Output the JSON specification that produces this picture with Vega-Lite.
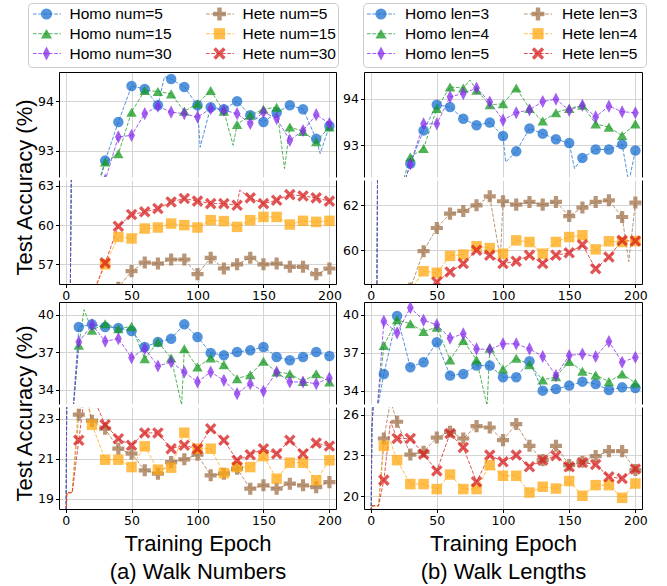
{
"$schema": "https://vega.github.io/schema/vega-lite/v6.json",
"background": "white",
"padding": {"left": 13, "top": 2, "right": 5, "bottom": 5},
"config": {
  "view": {"stroke": null},
  "axis": {"domainColor": "#000", "domainWidth": 1, "tickColor": "#000", "tickWidth": 1, "tickSize": 3.5, "labelFont": "DejaVu Sans", "labelFontSize": 12.5, "labelColor": "#000", "labelPadding": 2, "gridColor": "#d4d4d4", "gridWidth": 1, "titleFont": "Liberation Sans", "titleFontSize": 22, "titleFontWeight": "normal", "titleColor": "#000"}
},
"datasets": {
"A1": [
{"s":"h1","e":0,"v":30},{"s":"h1","e":3,"v":48},{"s":"h1","e":5,"v":72},{"s":"h1","e":10,"v":86},{"s":"h1","e":20,"v":91.9},{"s":"h1","e":30,"v":92.8},{"s":"h1","e":40,"v":93.58},{"s":"h1","e":50,"v":94.31},{"s":"h1","e":60,"v":94.25},{"s":"h1","e":70,"v":93.92},{"s":"h1","e":75,"v":94.5},{"s":"h1","e":80,"v":94.45},{"s":"h1","e":90,"v":94.29},{"s":"h1","e":100,"v":93.92},{"s":"h1","e":102,"v":93.07},{"s":"h1","e":110,"v":93.88},{"s":"h1","e":120,"v":93.84},{"s":"h1","e":130,"v":94.0},{"s":"h1","e":140,"v":93.72},{"s":"h1","e":150,"v":93.58},{"s":"h1","e":160,"v":93.77},{"s":"h1","e":170,"v":93.92},{"s":"h1","e":180,"v":93.84},{"s":"h1","e":190,"v":93.24},{"s":"h1","e":193,"v":92.94},{"s":"h1","e":200,"v":93.5},
{"s":"h2","e":0,"v":30},{"s":"h2","e":3,"v":48},{"s":"h2","e":5,"v":72},{"s":"h2","e":10,"v":86},{"s":"h2","e":20,"v":91.8},{"s":"h2","e":30,"v":92.77},{"s":"h2","e":40,"v":92.94},{"s":"h2","e":50,"v":93.78},{"s":"h2","e":60,"v":94.22},{"s":"h2","e":70,"v":94.2},{"s":"h2","e":80,"v":94.15},{"s":"h2","e":90,"v":93.8},{"s":"h2","e":100,"v":93.95},{"s":"h2","e":110,"v":94.22},{"s":"h2","e":120,"v":93.8},{"s":"h2","e":127,"v":93.11},{"s":"h2","e":130,"v":93.53},{"s":"h2","e":140,"v":93.72},{"s":"h2","e":150,"v":93.84},{"s":"h2","e":160,"v":93.88},{"s":"h2","e":166,"v":92.64},{"s":"h2","e":170,"v":93.48},{"s":"h2","e":180,"v":93.39},{"s":"h2","e":190,"v":93.18},{"s":"h2","e":200,"v":93.48},
{"s":"h3","e":0,"v":30},{"s":"h3","e":3,"v":48},{"s":"h3","e":5,"v":72},{"s":"h3","e":10,"v":86},{"s":"h3","e":20,"v":91.5},{"s":"h3","e":30,"v":92.4},{"s":"h3","e":40,"v":93.28},{"s":"h3","e":50,"v":93.31},{"s":"h3","e":60,"v":93.75},{"s":"h3","e":70,"v":93.9},{"s":"h3","e":80,"v":93.78},{"s":"h3","e":90,"v":93.75},{"s":"h3","e":100,"v":93.68},{"s":"h3","e":110,"v":93.85},{"s":"h3","e":120,"v":93.82},{"s":"h3","e":130,"v":93.75},{"s":"h3","e":140,"v":93.55},{"s":"h3","e":150,"v":93.78},{"s":"h3","e":160,"v":93.65},{"s":"h3","e":170,"v":93.21},{"s":"h3","e":180,"v":93.41},{"s":"h3","e":190,"v":93.73},{"s":"h3","e":200,"v":93.55},
{"s":"t1","e":0,"v":35},{"s":"t1","e":10,"v":46},{"s":"t1","e":20,"v":50},{"s":"t1","e":30,"v":53.5},{"s":"t1","e":40,"v":55.2},{"s":"t1","e":50,"v":56.48},{"s":"t1","e":60,"v":57.14},{"s":"t1","e":70,"v":57.06},{"s":"t1","e":80,"v":57.37},{"s":"t1","e":90,"v":57.37},{"s":"t1","e":100,"v":56.25},{"s":"t1","e":110,"v":57.5},{"s":"t1","e":120,"v":56.68},{"s":"t1","e":130,"v":57.0},{"s":"t1","e":140,"v":57.5},{"s":"t1","e":150,"v":57.0},{"s":"t1","e":160,"v":57.06},{"s":"t1","e":170,"v":56.81},{"s":"t1","e":180,"v":56.81},{"s":"t1","e":190,"v":56.25},{"s":"t1","e":200,"v":56.68},
{"s":"t2","e":0,"v":35},{"s":"t2","e":10,"v":48},{"s":"t2","e":20,"v":54.5},{"s":"t2","e":30,"v":57.0},{"s":"t2","e":40,"v":59.1},{"s":"t2","e":50,"v":58.98},{"s":"t2","e":60,"v":59.74},{"s":"t2","e":70,"v":59.82},{"s":"t2","e":80,"v":60.12},{"s":"t2","e":90,"v":60.0},{"s":"t2","e":100,"v":59.82},{"s":"t2","e":110,"v":60.38},{"s":"t2","e":120,"v":60.31},{"s":"t2","e":130,"v":59.87},{"s":"t2","e":140,"v":60.38},{"s":"t2","e":150,"v":60.63},{"s":"t2","e":160,"v":60.63},{"s":"t2","e":170,"v":60.05},{"s":"t2","e":180,"v":60.33},{"s":"t2","e":190,"v":60.25},{"s":"t2","e":200,"v":60.33},
{"s":"t3","e":0,"v":35},{"s":"t3","e":10,"v":48},{"s":"t3","e":20,"v":54.6},{"s":"t3","e":30,"v":57.11},{"s":"t3","e":40,"v":59.92},{"s":"t3","e":50,"v":60.81},{"s":"t3","e":60,"v":61.02},{"s":"t3","e":70,"v":61.27},{"s":"t3","e":80,"v":61.78},{"s":"t3","e":90,"v":62.04},{"s":"t3","e":100,"v":61.84},{"s":"t3","e":110,"v":61.65},{"s":"t3","e":120,"v":61.65},{"s":"t3","e":130,"v":61.53},{"s":"t3","e":132,"v":62.68},{"s":"t3","e":140,"v":62.09},{"s":"t3","e":150,"v":61.65},{"s":"t3","e":160,"v":61.91},{"s":"t3","e":170,"v":62.34},{"s":"t3","e":180,"v":62.24},{"s":"t3","e":190,"v":62.09},{"s":"t3","e":200,"v":61.84}
],
"B1": [
{"s":"h1","e":0,"v":30},{"s":"h1","e":4,"v":50},{"s":"h1","e":6,"v":72},{"s":"h1","e":10,"v":86},{"s":"h1","e":20,"v":91.7},{"s":"h1","e":30,"v":92.61},{"s":"h1","e":40,"v":93.32},{"s":"h1","e":50,"v":93.87},{"s":"h1","e":60,"v":93.82},{"s":"h1","e":70,"v":93.57},{"s":"h1","e":80,"v":93.43},{"s":"h1","e":90,"v":93.49},{"s":"h1","e":100,"v":93.2},{"s":"h1","e":102,"v":92.64},{"s":"h1","e":110,"v":92.87},{"s":"h1","e":120,"v":93.36},{"s":"h1","e":130,"v":93.25},{"s":"h1","e":140,"v":93.13},{"s":"h1","e":150,"v":93.05},{"s":"h1","e":154,"v":92.5},{"s":"h1","e":160,"v":92.73},{"s":"h1","e":170,"v":92.91},{"s":"h1","e":180,"v":92.91},{"s":"h1","e":190,"v":93.02},{"s":"h1","e":195,"v":92.2},{"s":"h1","e":200,"v":92.89},
{"s":"h2","e":0,"v":30},{"s":"h2","e":4,"v":50},{"s":"h2","e":6,"v":72},{"s":"h2","e":10,"v":86},{"s":"h2","e":20,"v":91.8},{"s":"h2","e":30,"v":92.75},{"s":"h2","e":40,"v":92.93},{"s":"h2","e":50,"v":93.79},{"s":"h2","e":60,"v":94.25},{"s":"h2","e":70,"v":94.23},{"s":"h2","e":75,"v":94.4},{"s":"h2","e":80,"v":94.18},{"s":"h2","e":90,"v":93.87},{"s":"h2","e":100,"v":93.89},{"s":"h2","e":110,"v":94.23},{"s":"h2","e":120,"v":93.79},{"s":"h2","e":130,"v":93.52},{"s":"h2","e":140,"v":93.7},{"s":"h2","e":150,"v":93.79},{"s":"h2","e":160,"v":93.86},{"s":"h2","e":170,"v":93.46},{"s":"h2","e":180,"v":93.39},{"s":"h2","e":190,"v":93.21},{"s":"h2","e":200,"v":93.46},
{"s":"h3","e":0,"v":30},{"s":"h3","e":4,"v":50},{"s":"h3","e":6,"v":72},{"s":"h3","e":10,"v":86},{"s":"h3","e":20,"v":91.7},{"s":"h3","e":30,"v":92.6},{"s":"h3","e":40,"v":93.46},{"s":"h3","e":50,"v":93.46},{"s":"h3","e":60,"v":94.04},{"s":"h3","e":70,"v":94.11},{"s":"h3","e":80,"v":94.23},{"s":"h3","e":90,"v":93.93},{"s":"h3","e":100,"v":93.54},{"s":"h3","e":110,"v":93.7},{"s":"h3","e":120,"v":93.76},{"s":"h3","e":130,"v":93.94},{"s":"h3","e":140,"v":93.99},{"s":"h3","e":150,"v":93.75},{"s":"h3","e":160,"v":93.86},{"s":"h3","e":170,"v":93.61},{"s":"h3","e":180,"v":93.84},{"s":"h3","e":190,"v":93.72},{"s":"h3","e":200,"v":93.7},
{"s":"t1","e":0,"v":35},{"s":"t1","e":10,"v":48},{"s":"t1","e":20,"v":54},{"s":"t1","e":30,"v":58.3},{"s":"t1","e":40,"v":59.96},{"s":"t1","e":50,"v":60.99},{"s":"t1","e":60,"v":61.63},{"s":"t1","e":70,"v":61.75},{"s":"t1","e":80,"v":62.0},{"s":"t1","e":90,"v":62.4},{"s":"t1","e":98,"v":59.6},{"s":"t1","e":100,"v":62.18},{"s":"t1","e":110,"v":62.03},{"s":"t1","e":120,"v":62.15},{"s":"t1","e":130,"v":62.03},{"s":"t1","e":140,"v":62.15},{"s":"t1","e":150,"v":61.52},{"s":"t1","e":160,"v":61.9},{"s":"t1","e":170,"v":62.15},{"s":"t1","e":180,"v":62.22},{"s":"t1","e":190,"v":61.48},{"s":"t1","e":195,"v":59.5},{"s":"t1","e":200,"v":62.12},
{"s":"t2","e":0,"v":35},{"s":"t2","e":10,"v":48},{"s":"t2","e":20,"v":54},{"s":"t2","e":30,"v":58.2},{"s":"t2","e":40,"v":59.07},{"s":"t2","e":50,"v":59.0},{"s":"t2","e":60,"v":59.75},{"s":"t2","e":70,"v":59.81},{"s":"t2","e":80,"v":60.18},{"s":"t2","e":90,"v":60.1},{"s":"t2","e":100,"v":59.85},{"s":"t2","e":110,"v":60.44},{"s":"t2","e":120,"v":60.37},{"s":"t2","e":130,"v":59.85},{"s":"t2","e":140,"v":60.37},{"s":"t2","e":150,"v":60.59},{"s":"t2","e":160,"v":60.67},{"s":"t2","e":170,"v":60.04},{"s":"t2","e":180,"v":60.4},{"s":"t2","e":190,"v":60.37},{"s":"t2","e":200,"v":60.41},
{"s":"t3","e":0,"v":35},{"s":"t3","e":10,"v":48},{"s":"t3","e":20,"v":53},{"s":"t3","e":30,"v":56.5},{"s":"t3","e":40,"v":57.8},{"s":"t3","e":50,"v":58.59},{"s":"t3","e":60,"v":59.04},{"s":"t3","e":70,"v":59.41},{"s":"t3","e":80,"v":60.0},{"s":"t3","e":90,"v":59.78},{"s":"t3","e":100,"v":59.41},{"s":"t3","e":110,"v":59.51},{"s":"t3","e":120,"v":59.78},{"s":"t3","e":130,"v":59.41},{"s":"t3","e":140,"v":59.78},{"s":"t3","e":150,"v":59.89},{"s":"t3","e":160,"v":60.25},{"s":"t3","e":170,"v":59.18},{"s":"t3","e":180,"v":59.7},{"s":"t3","e":190,"v":60.44},{"s":"t3","e":200,"v":60.41}
],
"A2": [
{"s":"h1","e":0,"v":15},{"s":"h1","e":1,"v":25},{"s":"h1","e":5,"v":31.5},{"s":"h1","e":10,"v":39.02},{"s":"h1","e":20,"v":39.23},{"s":"h1","e":30,"v":39.02},{"s":"h1","e":40,"v":38.94},{"s":"h1","e":50,"v":38.7},{"s":"h1","e":60,"v":37.43},{"s":"h1","e":70,"v":37.82},{"s":"h1","e":80,"v":38.09},{"s":"h1","e":90,"v":39.23},{"s":"h1","e":100,"v":38.22},{"s":"h1","e":110,"v":36.95},{"s":"h1","e":120,"v":36.76},{"s":"h1","e":130,"v":37.03},{"s":"h1","e":140,"v":37.16},{"s":"h1","e":150,"v":37.43},{"s":"h1","e":160,"v":36.63},{"s":"h1","e":170,"v":36.37},{"s":"h1","e":180,"v":36.63},{"s":"h1","e":190,"v":37.03},{"s":"h1","e":200,"v":36.71},
{"s":"h2","e":0,"v":15},{"s":"h2","e":1,"v":25},{"s":"h2","e":5,"v":31.5},{"s":"h2","e":10,"v":37.56},{"s":"h2","e":14,"v":40.4},{"s":"h2","e":20,"v":38.76},{"s":"h2","e":30,"v":39.28},{"s":"h2","e":40,"v":38.88},{"s":"h2","e":50,"v":39.07},{"s":"h2","e":60,"v":36.5},{"s":"h2","e":70,"v":37.82},{"s":"h2","e":80,"v":36.55},{"s":"h2","e":88,"v":32.8},{"s":"h2","e":90,"v":37.29},{"s":"h2","e":100,"v":35.83},{"s":"h2","e":110,"v":36.55},{"s":"h2","e":120,"v":36.02},{"s":"h2","e":130,"v":34.9},{"s":"h2","e":140,"v":35.22},{"s":"h2","e":150,"v":36.29},{"s":"h2","e":160,"v":35.43},{"s":"h2","e":170,"v":35.3},{"s":"h2","e":180,"v":34.69},{"s":"h2","e":190,"v":35.3},{"s":"h2","e":200,"v":34.64},
{"s":"h3","e":0,"v":15},{"s":"h3","e":1,"v":25},{"s":"h3","e":5,"v":31.5},{"s":"h3","e":10,"v":37.82},{"s":"h3","e":20,"v":39.2},{"s":"h3","e":30,"v":37.88},{"s":"h3","e":40,"v":38.09},{"s":"h3","e":50,"v":36.57},{"s":"h3","e":60,"v":37.29},{"s":"h3","e":70,"v":35.91},{"s":"h3","e":80,"v":36.23},{"s":"h3","e":90,"v":35.43},{"s":"h3","e":100,"v":34.64},{"s":"h3","e":110,"v":35.43},{"s":"h3","e":120,"v":34.77},{"s":"h3","e":130,"v":33.71},{"s":"h3","e":140,"v":34.5},{"s":"h3","e":150,"v":33.9},{"s":"h3","e":160,"v":35.43},{"s":"h3","e":170,"v":34.64},{"s":"h3","e":180,"v":34.64},{"s":"h3","e":190,"v":34.5},{"s":"h3","e":200,"v":34.96},
{"s":"t1","e":0,"v":17.5},{"s":"t1","e":1,"v":19.3},{"s":"t1","e":5,"v":19.3},{"s":"t1","e":10,"v":23.2},{"s":"t1","e":15,"v":24.3},{"s":"t1","e":20,"v":22.9},{"s":"t1","e":30,"v":22.5},{"s":"t1","e":40,"v":21.5},{"s":"t1","e":50,"v":21.25},{"s":"t1","e":60,"v":20.42},{"s":"t1","e":70,"v":20.25},{"s":"t1","e":80,"v":20.83},{"s":"t1","e":90,"v":20.97},{"s":"t1","e":100,"v":21.2},{"s":"t1","e":110,"v":20.17},{"s":"t1","e":120,"v":20.25},{"s":"t1","e":130,"v":20.5},{"s":"t1","e":140,"v":19.5},{"s":"t1","e":150,"v":19.67},{"s":"t1","e":160,"v":19.5},{"s":"t1","e":170,"v":19.75},{"s":"t1","e":180,"v":19.67},{"s":"t1","e":190,"v":19.58},{"s":"t1","e":200,"v":19.83},
{"s":"t2","e":0,"v":17.5},{"s":"t2","e":1,"v":19.3},{"s":"t2","e":5,"v":19.3},{"s":"t2","e":10,"v":24.0},{"s":"t2","e":15,"v":24.4},{"s":"t2","e":20,"v":22.7},{"s":"t2","e":30,"v":20.95},{"s":"t2","e":40,"v":20.95},{"s":"t2","e":50,"v":20.58},{"s":"t2","e":60,"v":21.62},{"s":"t2","e":70,"v":20.45},{"s":"t2","e":80,"v":20.55},{"s":"t2","e":90,"v":22.3},{"s":"t2","e":100,"v":21.5},{"s":"t2","e":110,"v":21.5},{"s":"t2","e":120,"v":20.28},{"s":"t2","e":130,"v":20.58},{"s":"t2","e":140,"v":20.58},{"s":"t2","e":150,"v":21.13},{"s":"t2","e":160,"v":20.0},{"s":"t2","e":170,"v":20.8},{"s":"t2","e":180,"v":20.8},{"s":"t2","e":190,"v":19.92},{"s":"t2","e":200,"v":20.92},
{"s":"t3","e":0,"v":17.5},{"s":"t3","e":1,"v":19.3},{"s":"t3","e":5,"v":19.3},{"s":"t3","e":10,"v":21.92},{"s":"t3","e":15,"v":24.5},{"s":"t3","e":20,"v":24.2},{"s":"t3","e":30,"v":22.7},{"s":"t3","e":40,"v":22.0},{"s":"t3","e":50,"v":21.67},{"s":"t3","e":60,"v":22.29},{"s":"t3","e":70,"v":22.29},{"s":"t3","e":80,"v":21.5},{"s":"t3","e":90,"v":21.67},{"s":"t3","e":100,"v":21.5},{"s":"t3","e":110,"v":22.5},{"s":"t3","e":120,"v":21.92},{"s":"t3","e":130,"v":20.92},{"s":"t3","e":140,"v":21.2},{"s":"t3","e":150,"v":21.5},{"s":"t3","e":160,"v":21.25},{"s":"t3","e":170,"v":21.92},{"s":"t3","e":180,"v":21.25},{"s":"t3","e":190,"v":21.78},{"s":"t3","e":200,"v":21.63}
],
"B2": [
{"s":"h1","e":0,"v":15},{"s":"h1","e":1,"v":25},{"s":"h1","e":5,"v":32.5},{"s":"h1","e":10,"v":35.32},{"s":"h1","e":20,"v":39.9},{"s":"h1","e":30,"v":35.85},{"s":"h1","e":40,"v":36.25},{"s":"h1","e":50,"v":37.83},{"s":"h1","e":60,"v":35.19},{"s":"h1","e":70,"v":35.32},{"s":"h1","e":80,"v":35.98},{"s":"h1","e":90,"v":35.98},{"s":"h1","e":100,"v":35.06},{"s":"h1","e":110,"v":35.06},{"s":"h1","e":120,"v":36.33},{"s":"h1","e":130,"v":34.0},{"s":"h1","e":140,"v":34.13},{"s":"h1","e":150,"v":34.4},{"s":"h1","e":160,"v":34.71},{"s":"h1","e":170,"v":34.52},{"s":"h1","e":180,"v":34.05},{"s":"h1","e":190,"v":34.26},{"s":"h1","e":200,"v":34.21},
{"s":"h2","e":0,"v":15},{"s":"h2","e":1,"v":25},{"s":"h2","e":5,"v":32.5},{"s":"h2","e":10,"v":37.57},{"s":"h2","e":20,"v":39.6},{"s":"h2","e":30,"v":39.29},{"s":"h2","e":40,"v":38.68},{"s":"h2","e":50,"v":39.02},{"s":"h2","e":60,"v":36.43},{"s":"h2","e":70,"v":37.97},{"s":"h2","e":80,"v":36.43},{"s":"h2","e":88,"v":32.8},{"s":"h2","e":90,"v":37.36},{"s":"h2","e":100,"v":35.71},{"s":"h2","e":110,"v":36.56},{"s":"h2","e":120,"v":36.06},{"s":"h2","e":130,"v":34.84},{"s":"h2","e":140,"v":35.1},{"s":"h2","e":150,"v":36.3},{"s":"h2","e":160,"v":35.53},{"s":"h2","e":170,"v":35.24},{"s":"h2","e":180,"v":34.71},{"s":"h2","e":190,"v":35.32},{"s":"h2","e":200,"v":34.6},
{"s":"h3","e":0,"v":15},{"s":"h3","e":1,"v":25},{"s":"h3","e":5,"v":32.5},{"s":"h3","e":10,"v":39.48},{"s":"h3","e":20,"v":38.57},{"s":"h3","e":30,"v":40.56},{"s":"h3","e":40,"v":39.56},{"s":"h3","e":50,"v":39.21},{"s":"h3","e":60,"v":38.15},{"s":"h3","e":70,"v":38.49},{"s":"h3","e":80,"v":37.3},{"s":"h3","e":90,"v":37.25},{"s":"h3","e":100,"v":37.7},{"s":"h3","e":110,"v":37.7},{"s":"h3","e":120,"v":37.3},{"s":"h3","e":130,"v":36.7},{"s":"h3","e":140,"v":35.19},{"s":"h3","e":150,"v":36.78},{"s":"h3","e":160,"v":36.9},{"s":"h3","e":170,"v":36.7},{"s":"h3","e":180,"v":37.89},{"s":"h3","e":190,"v":36.25},{"s":"h3","e":200,"v":36.64},
{"s":"t1","e":0,"v":18.5},{"s":"t1","e":1,"v":19.3},{"s":"t1","e":6,"v":19.3},{"s":"t1","e":10,"v":24.25},{"s":"t1","e":15,"v":27.0},{"s":"t1","e":20,"v":25.48},{"s":"t1","e":30,"v":23.07},{"s":"t1","e":40,"v":23.27},{"s":"t1","e":50,"v":24.32},{"s":"t1","e":60,"v":24.74},{"s":"t1","e":70,"v":24.25},{"s":"t1","e":80,"v":25.16},{"s":"t1","e":90,"v":25.06},{"s":"t1","e":100,"v":24.13},{"s":"t1","e":110,"v":25.31},{"s":"t1","e":120,"v":23.71},{"s":"t1","e":130,"v":22.66},{"s":"t1","e":140,"v":23.71},{"s":"t1","e":150,"v":22.29},{"s":"t1","e":160,"v":22.54},{"s":"t1","e":170,"v":22.96},{"s":"t1","e":180,"v":23.32},{"s":"t1","e":190,"v":23.32},{"s":"t1","e":200,"v":21.93},
{"s":"t2","e":0,"v":18.5},{"s":"t2","e":1,"v":19.3},{"s":"t2","e":6,"v":19.3},{"s":"t2","e":10,"v":23.71},{"s":"t2","e":15,"v":24.0},{"s":"t2","e":20,"v":22.66},{"s":"t2","e":30,"v":20.9},{"s":"t2","e":40,"v":20.9},{"s":"t2","e":50,"v":20.53},{"s":"t2","e":60,"v":21.6},{"s":"t2","e":70,"v":20.53},{"s":"t2","e":80,"v":20.53},{"s":"t2","e":90,"v":22.29},{"s":"t2","e":100,"v":21.51},{"s":"t2","e":110,"v":21.51},{"s":"t2","e":120,"v":20.28},{"s":"t2","e":130,"v":20.7},{"s":"t2","e":140,"v":20.57},{"s":"t2","e":150,"v":21.12},{"s":"t2","e":160,"v":20.04},{"s":"t2","e":170,"v":20.82},{"s":"t2","e":180,"v":20.82},{"s":"t2","e":190,"v":19.89},{"s":"t2","e":200,"v":20.94},
{"s":"t3","e":0,"v":18.5},{"s":"t3","e":1,"v":19.3},{"s":"t3","e":6,"v":19.3},{"s":"t3","e":10,"v":21.19},{"s":"t3","e":15,"v":25.5},{"s":"t3","e":20,"v":24.25},{"s":"t3","e":30,"v":24.25},{"s":"t3","e":40,"v":23.1},{"s":"t3","e":50,"v":21.87},{"s":"t3","e":60,"v":24.62},{"s":"t3","e":70,"v":23.59},{"s":"t3","e":80,"v":21.07},{"s":"t3","e":90,"v":23.03},{"s":"t3","e":100,"v":22.54},{"s":"t3","e":110,"v":23.03},{"s":"t3","e":120,"v":22.17},{"s":"t3","e":130,"v":22.66},{"s":"t3","e":140,"v":22.98},{"s":"t3","e":150,"v":22.17},{"s":"t3","e":160,"v":22.49},{"s":"t3","e":170,"v":22.34},{"s":"t3","e":180,"v":21.43},{"s":"t3","e":190,"v":21.31},{"s":"t3","e":200,"v":22.0}
]
},
"vconcat": [
 {"hconcat": [
  {"width": 310, "height": 64,
   "view": {"stroke": "#cccccc", "cornerRadius": 4, "fill": "white"},
   "data": {"values": [
     {"s":"h1","g":"Homo","k":1,"t":"Homo num=5"},{"s":"h2","g":"Homo","k":2,"t":"Homo num=15"},{"s":"h3","g":"Homo","k":3,"t":"Homo num=30"},
     {"s":"t1","g":"Hete","k":1,"t":"Hete num=5"},{"s":"t2","g":"Hete","k":2,"t":"Hete num=15"},{"s":"t3","g":"Hete","k":3,"t":"Hete num=30"}]},
   "encoding": {
     "x": {"field":"g","type":"nominal","scale":{"type":"point","domain":["Homo","Hete"],"range":[0,173],"padding":0},"axis":null},
     "y": {"field":"k","type":"ordinal","scale":{"type":"point","range":[11,50.5],"padding":0},"axis":null},
     "color": {"field":"s","type":"nominal","scale":{"domain":["h1","h2","h3","t1","t2","t3"],"range":["#1a6fd0","#159a20","#842aeb","#a0714a","#ffa80f","#d71c1c"]},"legend":null}
   },
   "layer": [
     {"mark": {"type":"rule","xOffset":5,"x2Offset":33,"strokeDash":[3.7,1.6],"strokeWidth":1,"opacity":0.75},"encoding":{"x2":{"field":"g"}}},
     {"mark": {"type":"point","filled":true,"size":125,"opacity":0.75,"strokeWidth":0,"xOffset":18.5},
      "encoding":{"shape":{"field":"s","type":"nominal","scale":{"domain":["h1","h2","h3","t1","t2","t3"],"range":["circle","triangle-up","M0,-1.25L0.65,0L0,1.25L-0.65,0Z","M-0.4,-1.15H0.4V-0.4H1.15V0.4H0.4V1.15H-0.4V0.4H-1.15V-0.4H-0.4Z","square","M-1.1,-0.66L-0.66,-1.1L0,-0.44L0.66,-1.1L1.1,-0.66L0.44,0L1.1,0.66L0.66,1.1L0,0.44L-0.66,1.1L-1.1,0.66L-0.44,0Z"]},"legend":null}}},
     {"mark": {"type":"text","align":"left","baseline":"middle","xOffset":41.5,"font":"Liberation Sans","fontSize":15.5},
      "encoding":{"text":{"field":"t"},"color":{"value":"#000"}}}
   ]},
  {"width": 283, "height": 64,
   "view": {"stroke": "#cccccc", "cornerRadius": 4, "fill": "white"},
   "data": {"values": [
     {"s":"h1","g":"Homo","k":1,"t":"Homo len=3"},{"s":"h2","g":"Homo","k":2,"t":"Homo len=4"},{"s":"h3","g":"Homo","k":3,"t":"Homo len=5"},
     {"s":"t1","g":"Hete","k":1,"t":"Hete len=3"},{"s":"t2","g":"Hete","k":2,"t":"Hete len=4"},{"s":"t3","g":"Hete","k":3,"t":"Hete len=5"}]},
   "encoding": {
     "x": {"field":"g","type":"nominal","scale":{"type":"point","domain":["Homo","Hete"],"range":[0,157],"padding":0},"axis":null},
     "y": {"field":"k","type":"ordinal","scale":{"type":"point","range":[11,50.5],"padding":0},"axis":null},
     "color": {"field":"s","type":"nominal","scale":{"domain":["h1","h2","h3","t1","t2","t3"],"range":["#1a6fd0","#159a20","#842aeb","#a0714a","#ffa80f","#d71c1c"]},"legend":null}
   },
   "layer": [
     {"mark": {"type":"rule","xOffset":4,"x2Offset":32,"strokeDash":[3.7,1.6],"strokeWidth":1,"opacity":0.75},"encoding":{"x2":{"field":"g"}}},
     {"mark": {"type":"point","filled":true,"size":125,"opacity":0.75,"strokeWidth":0,"xOffset":18},
      "encoding":{"shape":{"field":"s","type":"nominal","scale":{"domain":["h1","h2","h3","t1","t2","t3"],"range":["circle","triangle-up","M0,-1.25L0.65,0L0,1.25L-0.65,0Z","M-0.4,-1.15H0.4V-0.4H1.15V0.4H0.4V1.15H-0.4V0.4H-1.15V-0.4H-0.4Z","square","M-1.1,-0.66L-0.66,-1.1L0,-0.44L0.66,-1.1L1.1,-0.66L0.44,0L1.1,0.66L0.66,1.1L0,0.44L-0.66,1.1L-1.1,0.66L-0.44,0Z"]},"legend":null}}},
     {"mark": {"type":"text","align":"left","baseline":"middle","xOffset":42,"font":"Liberation Sans","fontSize":15.5},
      "encoding":{"text":{"field":"t"},"color":{"value":"#000"}}}
   ]}
 ], "spacing": 25, "bounds": "flush"},
 {"hconcat": [
  {"width": 1, "height": 1, "data": {"values": []}, "mark": "point"},
  {"hconcat": [
  {"vconcat": [
   {"vconcat": [
    {"width": 277, "height": 105, "data": {"name": "A1"},
     "encoding": {"x": {"field":"e","type":"quantitative","scale":{"domain":[-5,205],"nice":false,"zero":false},"axis":{"orient":"top","values":[0,50,100,150,200],"labels":false,"ticks":false,"title":null}}},
     "layer": [
      {"mark": {"type":"line","strokeDash":[3.7,1.6],"strokeWidth":1,"opacity":0.75,"clip":true},
       "encoding": {
        "y": {"field":"v","type":"quantitative","scale":{"domain":[92.468,94.593],"nice":false,"zero":false},"axis":{"values":[93,94],"title":null}},
        "color": {"field":"s","type":"nominal","scale":{"domain":["h1","h2","h3","t1","t2","t3"],"range":["#1a6fd0","#159a20","#842aeb","#a0714a","#ffa80f","#d71c1c"]},"legend":null}}},
      {"transform": [{"filter": "datum.e % 10 == 0 && datum.e >= 10"}],
       "mark": {"type":"point","filled":true,"size":110,"opacity":0.75,"strokeWidth":0,"clip":true},
       "encoding": {
        "y": {"field":"v","type":"quantitative","axis":{"orient":"right","labels":false,"ticks":false,"grid":false,"title":null}},
        "color": {"field":"s","type":"nominal","legend":null},
        "shape": {"field":"s","type":"nominal","scale":{"domain":["h1","h2","h3","t1","t2","t3"],"range":["circle","triangle-up","M0,-1.25L0.65,0L0,1.25L-0.65,0Z","M-0.4,-1.15H0.4V-0.4H1.15V0.4H0.4V1.15H-0.4V0.4H-1.15V-0.4H-0.4Z","square","M-1.1,-0.66L-0.66,-1.1L0,-0.44L0.66,-1.1L1.1,-0.66L0.44,0L1.1,0.66L0.66,1.1L0,0.44L-0.66,1.1L-1.1,0.66L-0.44,0Z"]},"legend":null}}}
     ],
     "resolve": {"axis": {"y": "independent"}}},
    {"width": 277, "height": 104, "data": {"name": "A1"},
     "encoding": {"x": {"field":"e","type":"quantitative","scale":{"domain":[-5,205],"nice":false,"zero":false},"axis":{"values":[0,50,100,150,200],"title":null}}},
     "layer": [
      {"mark": {"type":"line","strokeDash":[3.7,1.6],"strokeWidth":1,"opacity":0.75,"clip":true},
       "encoding": {
        "y": {"field":"v","type":"quantitative","scale":{"domain":[55.493,63.459],"nice":false,"zero":false},"axis":{"values":[57,60,63],"title":"Test Accuracy (%)","titleY":7,"titlePadding":1}},
        "color": {"field":"s","type":"nominal","scale":{"domain":["h1","h2","h3","t1","t2","t3"],"range":["#1a6fd0","#159a20","#842aeb","#a0714a","#ffa80f","#d71c1c"]},"legend":null}}},
      {"transform": [{"filter": "datum.e % 10 == 0 && datum.e >= 10"}],
       "mark": {"type":"point","filled":true,"size":110,"opacity":0.75,"strokeWidth":0,"clip":true},
       "encoding": {
        "y": {"field":"v","type":"quantitative","axis":{"orient":"right","labels":false,"ticks":false,"grid":false,"title":null}},
        "color": {"field":"s","type":"nominal","legend":null},
        "shape": {"field":"s","type":"nominal","scale":{"domain":["h1","h2","h3","t1","t2","t3"],"range":["circle","triangle-up","M0,-1.25L0.65,0L0,1.25L-0.65,0Z","M-0.4,-1.15H0.4V-0.4H1.15V0.4H0.4V1.15H-0.4V0.4H-1.15V-0.4H-0.4Z","square","M-1.1,-0.66L-0.66,-1.1L0,-0.44L0.66,-1.1L1.1,-0.66L0.44,0L1.1,0.66L0.66,1.1L0,0.44L-0.66,1.1L-1.1,0.66L-0.44,0Z"]},"legend":null}}}
     ],
     "resolve": {"axis": {"y": "independent"}}}
   ], "spacing": 3, "bounds": "flush"},
   {"vconcat": [
    {"width": 277, "height": 102, "data": {"name": "A2"},
     "encoding": {"x": {"field":"e","type":"quantitative","scale":{"domain":[-5,205],"nice":false,"zero":false},"axis":{"orient":"top","values":[0,50,100,150,200],"labels":false,"ticks":false,"title":null}}},
     "layer": [
      {"mark": {"type":"line","strokeDash":[3.7,1.6],"strokeWidth":1,"opacity":0.75,"clip":true},
       "encoding": {
        "y": {"field":"v","type":"quantitative","scale":{"domain":[32.884,41.012],"nice":false,"zero":false},"axis":{"values":[34,37,40],"title":null}},
        "color": {"field":"s","type":"nominal","scale":{"domain":["h1","h2","h3","t1","t2","t3"],"range":["#1a6fd0","#159a20","#842aeb","#a0714a","#ffa80f","#d71c1c"]},"legend":null}}},
      {"transform": [{"filter": "datum.e % 10 == 0 && datum.e >= 10"}],
       "mark": {"type":"point","filled":true,"size":110,"opacity":0.75,"strokeWidth":0,"clip":true},
       "encoding": {
        "y": {"field":"v","type":"quantitative","axis":{"orient":"right","labels":false,"ticks":false,"grid":false,"title":null}},
        "color": {"field":"s","type":"nominal","legend":null},
        "shape": {"field":"s","type":"nominal","scale":{"domain":["h1","h2","h3","t1","t2","t3"],"range":["circle","triangle-up","M0,-1.25L0.65,0L0,1.25L-0.65,0Z","M-0.4,-1.15H0.4V-0.4H1.15V0.4H0.4V1.15H-0.4V0.4H-1.15V-0.4H-0.4Z","square","M-1.1,-0.66L-0.66,-1.1L0,-0.44L0.66,-1.1L1.1,-0.66L0.44,0L1.1,0.66L0.66,1.1L0,0.44L-0.66,1.1L-1.1,0.66L-0.44,0Z"]},"legend":null}}}
     ],
     "resolve": {"axis": {"y": "independent"}}},
    {"width": 277, "height": 102, "data": {"name": "A2"},
     "encoding": {"x": {"field":"e","type":"quantitative","scale":{"domain":[-5,205],"nice":false,"zero":false},"axis":{"values":[0,50,100,150,200],"title":["Training Epoch","(a) Walk Numbers"],"titlePadding":6,"titleLineHeight":28}}},
     "layer": [
      {"mark": {"type":"line","strokeDash":[3.7,1.6],"strokeWidth":1,"opacity":0.75,"clip":true},
       "encoding": {
        "y": {"field":"v","type":"quantitative","scale":{"domain":[18.485,23.585],"nice":false,"zero":false},"axis":{"values":[19,21,23],"title":"Test Accuracy (%)","titleY":6,"titlePadding":1}},
        "color": {"field":"s","type":"nominal","scale":{"domain":["h1","h2","h3","t1","t2","t3"],"range":["#1a6fd0","#159a20","#842aeb","#a0714a","#ffa80f","#d71c1c"]},"legend":null}}},
      {"transform": [{"filter": "datum.e % 10 == 0 && datum.e >= 10"}],
       "mark": {"type":"point","filled":true,"size":110,"opacity":0.75,"strokeWidth":0,"clip":true},
       "encoding": {
        "y": {"field":"v","type":"quantitative","axis":{"orient":"right","labels":false,"ticks":false,"grid":false,"title":null}},
        "color": {"field":"s","type":"nominal","legend":null},
        "shape": {"field":"s","type":"nominal","scale":{"domain":["h1","h2","h3","t1","t2","t3"],"range":["circle","triangle-up","M0,-1.25L0.65,0L0,1.25L-0.65,0Z","M-0.4,-1.15H0.4V-0.4H1.15V0.4H0.4V1.15H-0.4V0.4H-1.15V-0.4H-0.4Z","square","M-1.1,-0.66L-0.66,-1.1L0,-0.44L0.66,-1.1L1.1,-0.66L0.44,0L1.1,0.66L0.66,1.1L0,0.44L-0.66,1.1L-1.1,0.66L-0.44,0Z"]},"legend":null}}}
     ],
     "resolve": {"axis": {"y": "independent"}}}
   ], "spacing": 3, "bounds": "flush"}
  ], "spacing": 0},
  {"vconcat": [
   {"vconcat": [
    {"width": 278, "height": 105, "data": {"name": "B1"},
     "encoding": {"x": {"field":"e","type":"quantitative","scale":{"domain":[-5,205],"nice":false,"zero":false},"axis":{"orient":"top","values":[0,50,100,150,200],"labels":false,"ticks":false,"title":null}}},
     "layer": [
      {"mark": {"type":"line","strokeDash":[3.7,1.6],"strokeWidth":1,"opacity":0.75,"clip":true},
       "encoding": {
        "y": {"field":"v","type":"quantitative","scale":{"domain":[92.32,94.573],"nice":false,"zero":false},"axis":{"values":[93,94],"title":null}},
        "color": {"field":"s","type":"nominal","scale":{"domain":["h1","h2","h3","t1","t2","t3"],"range":["#1a6fd0","#159a20","#842aeb","#a0714a","#ffa80f","#d71c1c"]},"legend":null}}},
      {"transform": [{"filter": "datum.e % 10 == 0 && datum.e >= 10"}],
       "mark": {"type":"point","filled":true,"size":110,"opacity":0.75,"strokeWidth":0,"clip":true},
       "encoding": {
        "y": {"field":"v","type":"quantitative","axis":{"orient":"right","labels":false,"ticks":false,"grid":false,"title":null}},
        "color": {"field":"s","type":"nominal","legend":null},
        "shape": {"field":"s","type":"nominal","scale":{"domain":["h1","h2","h3","t1","t2","t3"],"range":["circle","triangle-up","M0,-1.25L0.65,0L0,1.25L-0.65,0Z","M-0.4,-1.15H0.4V-0.4H1.15V0.4H0.4V1.15H-0.4V0.4H-1.15V-0.4H-0.4Z","square","M-1.1,-0.66L-0.66,-1.1L0,-0.44L0.66,-1.1L1.1,-0.66L0.44,0L1.1,0.66L0.66,1.1L0,0.44L-0.66,1.1L-1.1,0.66L-0.44,0Z"]},"legend":null}}}
     ],
     "resolve": {"axis": {"y": "independent"}}},
    {"width": 278, "height": 104, "data": {"name": "B1"},
     "encoding": {"x": {"field":"e","type":"quantitative","scale":{"domain":[-5,205],"nice":false,"zero":false},"axis":{"values":[0,50,100,150,200],"title":null}}},
     "layer": [
      {"mark": {"type":"line","strokeDash":[3.7,1.6],"strokeWidth":1,"opacity":0.75,"clip":true},
       "encoding": {
        "y": {"field":"v","type":"quantitative","scale":{"domain":[58.502,63.124],"nice":false,"zero":false},"axis":{"values":[60,62],"title":null}},
        "color": {"field":"s","type":"nominal","scale":{"domain":["h1","h2","h3","t1","t2","t3"],"range":["#1a6fd0","#159a20","#842aeb","#a0714a","#ffa80f","#d71c1c"]},"legend":null}}},
      {"transform": [{"filter": "datum.e % 10 == 0 && datum.e >= 10"}],
       "mark": {"type":"point","filled":true,"size":110,"opacity":0.75,"strokeWidth":0,"clip":true},
       "encoding": {
        "y": {"field":"v","type":"quantitative","axis":{"orient":"right","labels":false,"ticks":false,"grid":false,"title":null}},
        "color": {"field":"s","type":"nominal","legend":null},
        "shape": {"field":"s","type":"nominal","scale":{"domain":["h1","h2","h3","t1","t2","t3"],"range":["circle","triangle-up","M0,-1.25L0.65,0L0,1.25L-0.65,0Z","M-0.4,-1.15H0.4V-0.4H1.15V0.4H0.4V1.15H-0.4V0.4H-1.15V-0.4H-0.4Z","square","M-1.1,-0.66L-0.66,-1.1L0,-0.44L0.66,-1.1L1.1,-0.66L0.44,0L1.1,0.66L0.66,1.1L0,0.44L-0.66,1.1L-1.1,0.66L-0.44,0Z"]},"legend":null}}}
     ],
     "resolve": {"axis": {"y": "independent"}}}
   ], "spacing": 3, "bounds": "flush"},
   {"vconcat": [
    {"width": 278, "height": 102, "data": {"name": "B2"},
     "encoding": {"x": {"field":"e","type":"quantitative","scale":{"domain":[-5,205],"nice":false,"zero":false},"axis":{"orient":"top","values":[0,50,100,150,200],"labels":false,"ticks":false,"title":null}}},
     "layer": [
      {"mark": {"type":"line","strokeDash":[3.7,1.6],"strokeWidth":1,"opacity":0.75,"clip":true},
       "encoding": {
        "y": {"field":"v","type":"quantitative","scale":{"domain":[32.944,41.008],"nice":false,"zero":false},"axis":{"values":[34,37,40],"title":null}},
        "color": {"field":"s","type":"nominal","scale":{"domain":["h1","h2","h3","t1","t2","t3"],"range":["#1a6fd0","#159a20","#842aeb","#a0714a","#ffa80f","#d71c1c"]},"legend":null}}},
      {"transform": [{"filter": "datum.e % 10 == 0 && datum.e >= 10"}],
       "mark": {"type":"point","filled":true,"size":110,"opacity":0.75,"strokeWidth":0,"clip":true},
       "encoding": {
        "y": {"field":"v","type":"quantitative","axis":{"orient":"right","labels":false,"ticks":false,"grid":false,"title":null}},
        "color": {"field":"s","type":"nominal","legend":null},
        "shape": {"field":"s","type":"nominal","scale":{"domain":["h1","h2","h3","t1","t2","t3"],"range":["circle","triangle-up","M0,-1.25L0.65,0L0,1.25L-0.65,0Z","M-0.4,-1.15H0.4V-0.4H1.15V0.4H0.4V1.15H-0.4V0.4H-1.15V-0.4H-0.4Z","square","M-1.1,-0.66L-0.66,-1.1L0,-0.44L0.66,-1.1L1.1,-0.66L0.44,0L1.1,0.66L0.66,1.1L0,0.44L-0.66,1.1L-1.1,0.66L-0.44,0Z"]},"legend":null}}}
     ],
     "resolve": {"axis": {"y": "independent"}}},
    {"width": 278, "height": 102, "data": {"name": "B2"},
     "encoding": {"x": {"field":"e","type":"quantitative","scale":{"domain":[-5,205],"nice":false,"zero":false},"axis":{"values":[0,50,100,150,200],"title":["Training Epoch","(b) Walk Lengths"],"titlePadding":6,"titleLineHeight":28}}},
     "layer": [
      {"mark": {"type":"line","strokeDash":[3.7,1.6],"strokeWidth":1,"opacity":0.75,"clip":true},
       "encoding": {
        "y": {"field":"v","type":"quantitative","scale":{"domain":[19.066,26.566],"nice":false,"zero":false},"axis":{"values":[20,23,26],"title":null}},
        "color": {"field":"s","type":"nominal","scale":{"domain":["h1","h2","h3","t1","t2","t3"],"range":["#1a6fd0","#159a20","#842aeb","#a0714a","#ffa80f","#d71c1c"]},"legend":null}}},
      {"transform": [{"filter": "datum.e % 10 == 0 && datum.e >= 10"}],
       "mark": {"type":"point","filled":true,"size":110,"opacity":0.75,"strokeWidth":0,"clip":true},
       "encoding": {
        "y": {"field":"v","type":"quantitative","axis":{"orient":"right","labels":false,"ticks":false,"grid":false,"title":null}},
        "color": {"field":"s","type":"nominal","legend":null},
        "shape": {"field":"s","type":"nominal","scale":{"domain":["h1","h2","h3","t1","t2","t3"],"range":["circle","triangle-up","M0,-1.25L0.65,0L0,1.25L-0.65,0Z","M-0.4,-1.15H0.4V-0.4H1.15V0.4H0.4V1.15H-0.4V0.4H-1.15V-0.4H-0.4Z","square","M-1.1,-0.66L-0.66,-1.1L0,-0.44L0.66,-1.1L1.1,-0.66L0.44,0L1.1,0.66L0.66,1.1L0,0.44L-0.66,1.1L-1.1,0.66L-0.44,0Z"]},"legend":null}}}
     ],
     "resolve": {"axis": {"y": "independent"}}}
   ], "spacing": 3, "bounds": "flush"}
  ], "spacing": 0}
  ], "spacing": 0}
 ], "spacing": -16}
], "spacing": 4
}
